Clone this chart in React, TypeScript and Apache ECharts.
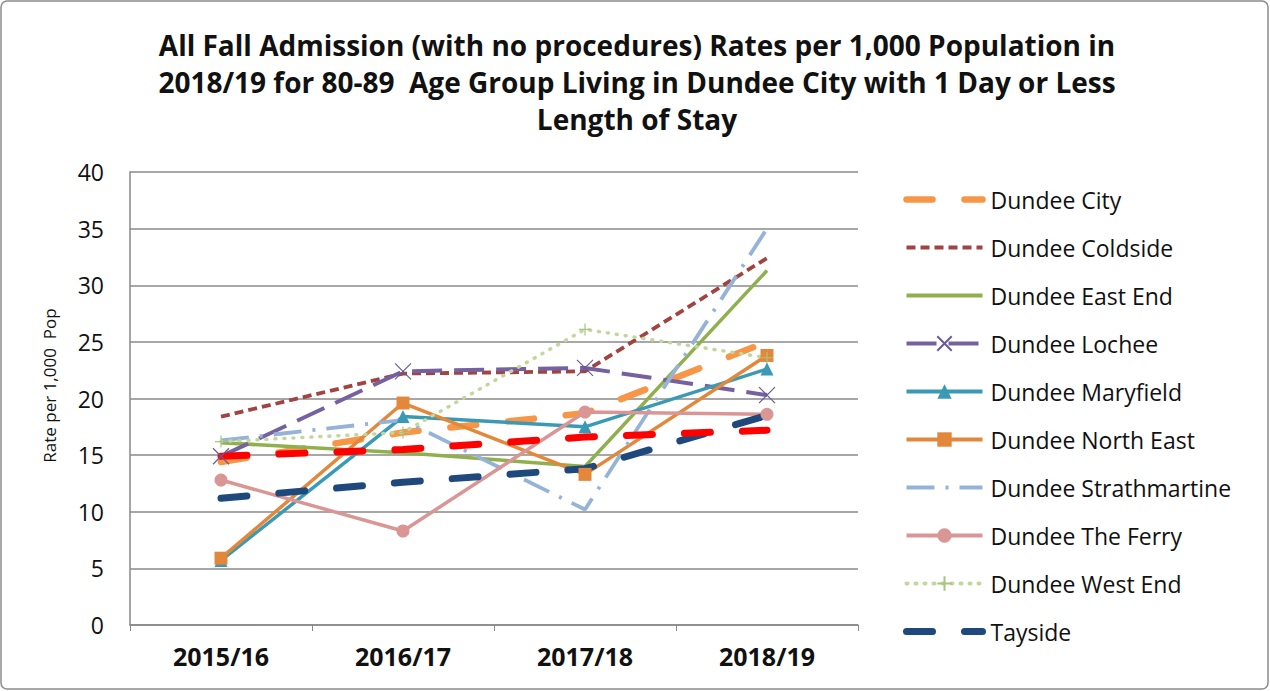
import React, { useEffect, useRef } from "react";
import * as echarts from "echarts";

const categories = ["2015/16", "2016/17", "2017/18", "2018/19"];
const dundeeCity = [14.4, 17.0, 18.7, 25.0];
const coldside = [18.4, 22.2, 22.4, 32.4];
const eastEnd = [16.1, 15.2, 14.0, 31.3];
const lochee = [14.9, 22.4, 22.7, 20.3];
const maryfield = [5.7, 18.4, 17.5, 22.6];
const northEast = [5.9, 19.6, 13.3, 23.8];
const strathmartine = [16.3, 18.1, 10.2, 35.0];
const theFerry = [12.8, 8.3, 18.8, 18.6];
const westEnd = [16.2, 17.0, 26.1, 23.6];
const tayside = [11.2, 12.6, 13.8, 18.5];
const scotland = [14.9, 15.5, 16.6, 17.2];
const yTicks = { min: 0, max: 40, interval: 5 };

const titleText =
  "All Fall Admission (with no procedures) Rates per 1,000 Population in\n2018/19 for 80-89  Age Group Living in Dundee City with 1 Day or Less\nLength of Stay";

const FONT = "'Open Sans', 'Liberation Sans', sans-serif";

export default function App() {
  const ref = useRef<HTMLDivElement>(null);
  useEffect(() => {
    if (!ref.current) return;
    const chart = echarts.init(ref.current, null, { renderer: "svg" });
    const xMark = "path://M0,0L10,10M10,0L0,10";
    const plusMark = "path://M5,0L5,10M0,5L10,5";
    const series: any[] = [
      {
        name: "Dundee City", data: dundeeCity, symbol: "none",
        lineStyle: { color: "#F79646", width: 6.5, type: [26, 32], cap: "round" },
        itemStyle: { color: "#F79646" },
      },
      {
        name: "Dundee Coldside", data: coldside, symbol: "none",
        lineStyle: { color: "#A04341", width: 3.8, type: [9, 5] },
        itemStyle: { color: "#A04341" },
      },
      {
        name: "Dundee East End", data: eastEnd, symbol: "none",
        lineStyle: { color: "#8FB04C", width: 3.5 },
        itemStyle: { color: "#8FB04C" },
      },
      {
        name: "Dundee Lochee", data: lochee, symbol: xMark, symbolSize: 16,
        lineStyle: { color: "#7560A0", width: 4, type: [30, 12] },
        itemStyle: { color: "none", borderColor: "#6B5B95", borderWidth: 1.2 },
      },
      {
        name: "Dundee Maryfield", data: maryfield, symbol: "triangle", symbolSize: 13,
        lineStyle: { color: "#3A9AB5", width: 3.5 },
        itemStyle: { color: "#3A9AB5" },
      },
      {
        name: "Dundee North East", data: northEast, symbol: "rect", symbolSize: 13,
        lineStyle: { color: "#E3883A", width: 3.5 },
        itemStyle: { color: "#E3883A" },
      },
      {
        name: "Dundee Strathmartine", data: strathmartine, symbol: "none",
        lineStyle: { color: "#95B3D7", width: 3.8, type: [28, 11, 3, 11] },
        itemStyle: { color: "#95B3D7" },
      },
      {
        name: "Dundee The Ferry", data: theFerry, symbol: "circle", symbolSize: 13,
        lineStyle: { color: "#D99694", width: 3.5 },
        itemStyle: { color: "#D99694" },
      },
      {
        name: "Dundee West End", data: westEnd, symbol: plusMark, symbolSize: 12,
        lineStyle: { color: "#C3D69B", width: 3.5, type: [1, 8], cap: "round" },
        itemStyle: { color: "none", borderColor: "#A9C47F", borderWidth: 1.2 },
      },
      {
        name: "Tayside", data: tayside, symbol: "none",
        lineStyle: { color: "#1F497D", width: 7, type: [26, 32], cap: "round" },
        itemStyle: { color: "#1F497D" },
      },
      {
        name: "Scotland", data: scotland, symbol: "none",
        lineStyle: { color: "#FF0000", width: 7, type: [26, 32], cap: "round" },
        itemStyle: { color: "#FF0000" },
      },
    ].map((s) => ({ ...s, type: "line", showSymbol: s.symbol !== "none", z: 3 }));

    const legendData = series
      .filter((s) => s.name !== "Scotland")
      .map((s) => {
        const item: any = {
          name: s.name,
          lineStyle: { width: Math.max(4, s.lineStyle.width) },
        };
        if (s.symbol === "none") item.itemStyle = { opacity: 0 };
        return item;
      });

    chart.setOption({
      animation: false,
      backgroundColor: "#ffffff",
      title: {
        text: titleText,
        left: 632,
        top: 21,
        textAlign: "center",
        textStyle: {
          fontFamily: FONT,
          fontSize: 28,
          fontWeight: "bold",
          color: "#111",
          lineHeight: 37,
        },
      },
      graphic: [
        {
          type: "rect",
          shape: { x: 1, y: 1, width: 1267, height: 688, r: 6 },
          style: { fill: "none", stroke: "#8c8c8c", lineWidth: 1.5 },
          silent: true,
        },
      ],
      legend: {
        data: legendData,
        orient: "vertical",
        left: 898,
        top: 183,
        height: 490,
        itemWidth: 76,
        itemHeight: 18,
        itemGap: 25,
        textStyle: { fontFamily: FONT, fontSize: 23, color: "#111", padding: [0, 0, 0, 3] },
      },
      grid: { left: 130, top: 172, right: 412, bottom: 66 },
      xAxis: {
        type: "category",
        data: categories,
        boundaryGap: true,
        axisLine: { lineStyle: { color: "#888", width: 1.5 } },
        axisTick: { show: true, length: 6, lineStyle: { color: "#888" } },
        axisLabel: { fontFamily: FONT, fontSize: 25, fontWeight: "bold", color: "#111", margin: 18 },
      },
      yAxis: {
        type: "value",
        min: yTicks.min,
        max: yTicks.max,
        interval: yTicks.interval,
        name: "Rate per 1,000  Pop",
        nameLocation: "middle",
        nameGap: 72,
        nameTextStyle: { fontFamily: FONT, fontSize: 17, color: "#111", padding: [0, 0, 0, 26] },
        axisLine: { show: true, lineStyle: { color: "#888", width: 1.5 } },
        axisTick: { show: false },
        axisLabel: { fontFamily: FONT, fontSize: 23, color: "#111", margin: 26 },
        splitLine: { lineStyle: { color: "#8a8a8a", width: 1.5 } },
      },
      series,
    });
    return () => chart.dispose();
  }, []);
  return (
    <div
      ref={ref}
      style={{ position: "fixed", left: 0, top: 0, width: 1270, height: 691 }}
    />
  );
}
